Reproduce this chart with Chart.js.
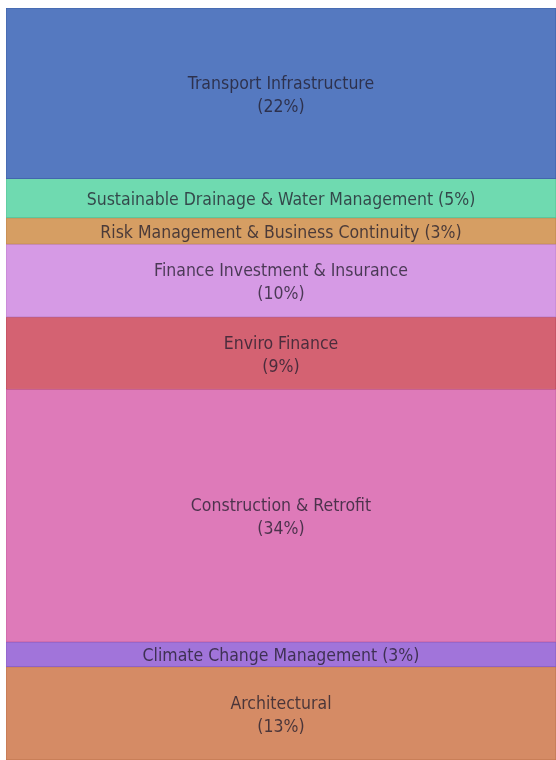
<!DOCTYPE html>
<html>
<head>
<meta charset="utf-8">
<script src="https://cdn.jsdelivr.net/npm/chart.js@4.4.0/dist/chart.umd.min.js"></script>
<style>
  html, body { margin: 0; padding: 0; background: #fff; }
  #wrap { width: 556px; height: 760px; }
</style>
</head>
<body>
<div id="wrap"><canvas id="chart" width="556" height="760"></canvas></div>
<script>
// segments, top to bottom
const categories = [
    'Transport Infrastructure',
    'Sustainable Drainage & Water Management',
    'Risk Management & Business Continuity',
    'Finance Investment & Insurance',
    'Enviro Finance',
    'Construction & Retrofit',
    'Climate Change Management',
    'Architectural'
];
// size (share of the column)
const values = [22.7, 5.2, 3.5, 9.7, 9.6, 33.6, 3.3, 12.4];
// percentage shown in the labels
const shownPct = [22, 5, 3, 10, 9, 34, 3, 13];
const colors = ['#5579C0', '#6FDAB0', '#D69E63', '#D69AE5', '#D46272', '#DE7AB9', '#A174DA', '#D58B65'];

const total = values.reduce((a, b) => a + b, 0);

function darken(hex, amt) {
    const n = parseInt(hex.slice(1), 16);
    const r = Math.max(0, (n >> 16) - amt);
    const g = Math.max(0, ((n >> 8) & 255) - amt);
    const b = Math.max(0, (n & 255) - amt);
    return 'rgb(' + r + ',' + g + ',' + b + ')';
}

const datasets = categories.map((name, i) => ({
    label: name,
    data: [values[i]],
    backgroundColor: colors[i],
    borderColor: darken(colors[i], 25),
    borderWidth: 0.8,
    borderSkipped: false,
    categoryPercentage: 1,
    barPercentage: 1
}));

// write the names in the middle of each block
const labelPlugin = {
    id: 'blockLabels',
    afterDatasetsDraw(chart) {
        const ctx = chart.ctx;
        ctx.save();
        ctx.font = '17.5px "DejaVu Sans Condensed", "DejaVu Sans", sans-serif';
        ctx.fillStyle = 'rgba(35,30,45,0.78)';
        ctx.textAlign = 'center';
        ctx.textBaseline = 'middle';
        chart.data.datasets.forEach((ds, i) => {
            const bar = chart.getDatasetMeta(i).data[0];
            const cx = bar.x;
            const cy = (bar.y + bar.base) / 2 + 2;
            const h = Math.abs(bar.base - bar.y);
            const pct = '(' + shownPct[i] + '%)';
            if (h < 50) {
                ctx.fillText(ds.label + ' ' + pct, cx, cy);
            } else {
                ctx.fillText(ds.label, cx, cy - 11);
                ctx.fillText(pct, cx, cy + 12);
            }
        });
        ctx.restore();
    }
};

new Chart(document.getElementById('chart'), {
    type: 'bar',
    data: { labels: [''], datasets: datasets },
    options: {
        responsive: false,
        animation: false,
        layout: { padding: { left: 6, top: 8, right: 0, bottom: 0 } },
        plugins: { legend: { display: false }, tooltip: { enabled: false } },
        scales: {
            x: { stacked: true, display: false },
            y: { stacked: true, display: false, reverse: true, min: 0, max: total }
        }
    },
    plugins: [labelPlugin]
});
</script>
</body>
</html>
